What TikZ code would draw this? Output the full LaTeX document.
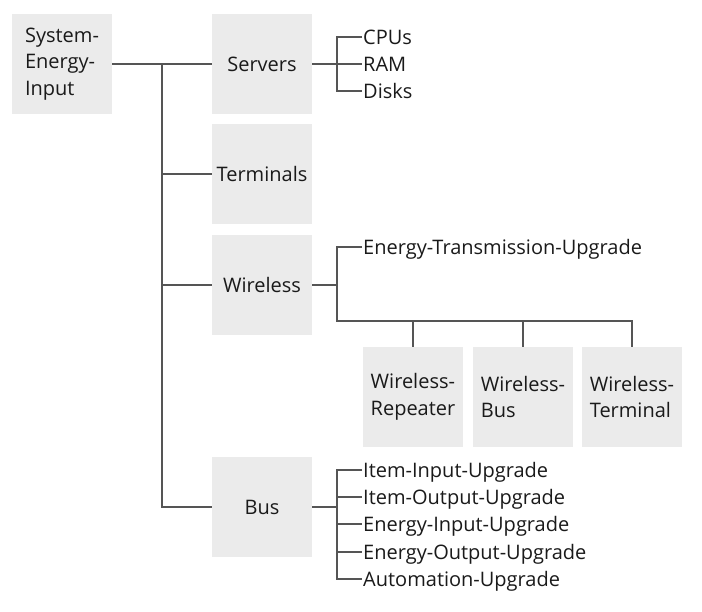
\documentclass[tikz,border=0pt]{standalone}
\usepackage{fontspec}
\setmainfont{Open Sans}
\definecolor{boxfill}{HTML}{EBEBEB}
\definecolor{linec}{HTML}{555555}
\definecolor{txt}{HTML}{1A1A1A}
\begin{document}
\begin{tikzpicture}[x=1pt,y=-1pt,
  every node/.style={font=\fontsize{20}{26.5}\selectfont, text=txt},
  box/.style={fill=boxfill, minimum width=100pt, minimum height=100pt, inner sep=0pt, align=left},
  leaf/.style={anchor=west, inner sep=1pt, text height=14.3pt, text depth=0pt},
  conn/.style={draw=linec, line width=1.2pt}]
\useasboundingbox (0,0) rectangle (702,612);
% boxes
\node[box] (sys) at (62,64) {System-\\Energy-\\Input};
\node[box] (srv) at (262,64) {Servers};
\node[box] (term) at (262,174) {Terminals};
\node[box] (wl) at (262,285) {Wireless};
\node[box] (bus) at (262,507) {Bus};
\node[box] (wrep) at (413,397) {Wireless-\\Repeater};
\node[box] (wbus) at (523,397) {Wireless-\\Bus};
\node[box] (wterm) at (632,397) {Wireless-\\Terminal};
% leaves
\node[leaf] (cpu) at (362,37) {CPUs};
\node[leaf] (ram) at (362,64) {RAM};
\node[leaf] (disk) at (362,91) {Disks};
\node[leaf] (etu) at (362,247) {Energy-Transmission-Upgrade};
\node[leaf] (iiu) at (362,470) {Item-Input-Upgrade};
\node[leaf] (iou) at (362,497) {Item-Output-Upgrade};
\node[leaf] (eiu) at (362,524) {Energy-Input-Upgrade};
\node[leaf] (eou) at (362,552) {Energy-Output-Upgrade};
\node[leaf] (amu) at (362,579) {Automation-Upgrade};
% trunk
\coordinate (tr) at (162,64);
\draw[conn] (sys.east) -- (srv.west);
\draw[conn] (tr) |- (bus.west);
\draw[conn] (tr |- term.west) -- (term.west);
\draw[conn] (tr |- wl.west) -- (wl.west);
% servers
\coordinate (sj) at (337,64);
\draw[conn] (srv.east) -- (sj);
\draw[conn] (cpu.west) -| (sj) |- (disk.west);
\draw[conn] (sj) -- (ram.west);
% wireless
\coordinate (wj) at (337,285);
\coordinate (wbar) at (337,321);
\draw[conn] (wl.east) -- (wj);
\draw[conn] (etu.west) -| (wbar) -- (wterm.north |- wbar) -- (wterm.north);
\draw[conn] (wrep.north |- wbar) -- (wrep.north);
\draw[conn] (wbus.north |- wbar) -- (wbus.north);
% bus
\coordinate (bj) at (337,507);
\draw[conn] (bus.east) -- (bj);
\draw[conn] (iiu.west) -| (bj) |- (amu.west);
\draw[conn] (bj |- iou.west) -- (iou.west);
\draw[conn] (bj |- eiu.west) -- (eiu.west);
\draw[conn] (bj |- eou.west) -- (eou.west);
\end{tikzpicture}
\end{document}
